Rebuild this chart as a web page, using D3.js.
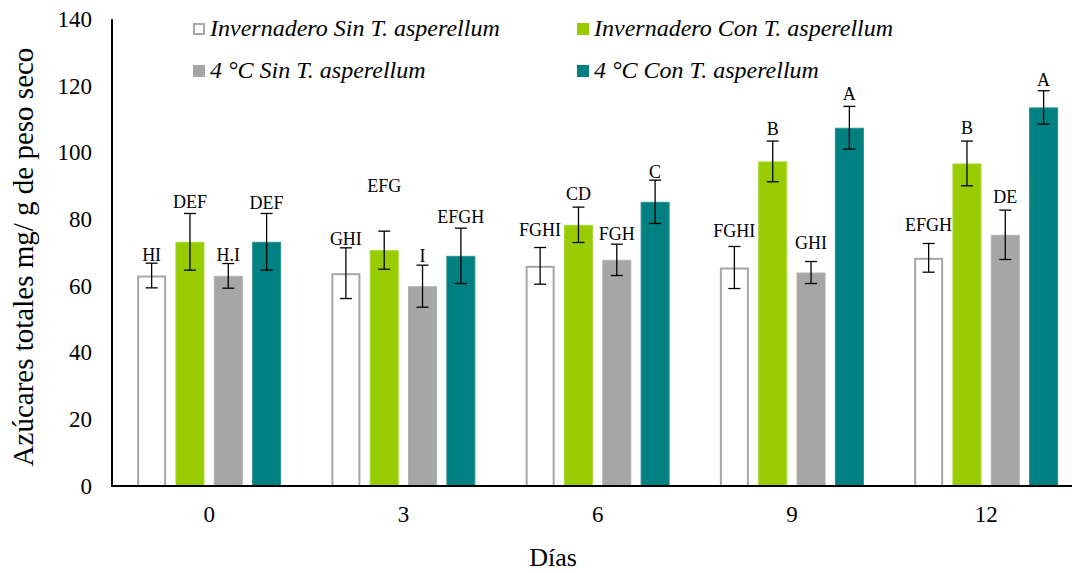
<!DOCTYPE html>
<html>
<head>
<meta charset="utf-8">
<script src="https://cdn.jsdelivr.net/npm/d3@7"></script>
<style>
  html, body { margin: 0; padding: 0; background: #fff; }
  svg { display: block; }
  text { font-family: "Liberation Serif", "Times New Roman", serif; fill: #000; }
</style>
</head>
<body>
<svg id="chart" width="1072" height="573"></svg>
<script>
// ---- data ----
const days = ["0", "3", "6", "9", "12"];
const seriesNames = [
  "Invernadero Sin T. asperellum",
  "Invernadero Con T. asperellum",
  "4 °C Sin T. asperellum",
  "4 °C Con T. asperellum"
];
// mean values per series (ordered by days)
const invSin = [63.1, 63.8, 66.0, 65.5, 68.4];
const invCon = [73.2, 70.7, 78.3, 97.3, 96.7];
const frioSin = [63.0, 59.9, 67.8, 64.0, 75.3];
const frioCon = [73.2, 69.0, 85.2, 107.4, 113.5];
// error bar half-lengths
const errInvSin = [3.7, 7.6, 5.5, 6.3, 4.3];
const errInvCon = [8.5, 5.7, 5.3, 6.1, 6.7];
const errFrioSin = [3.7, 6.3, 4.7, 3.3, 7.4];
const errFrioCon = [8.5, 8.3, 6.5, 6.4, 5.0];
// significance letters
const letInvSin = ["HI", "GHI", "FGHI", "FGHI", "EFGH"];
const letInvCon = ["DEF", "EFG", "CD", "B", "B"];
const letFrioSin = ["H.I", "I", "FGH", "GHI", "DE"];
const letFrioCon = ["DEF", "EFGH", "C", "A", "A"];
// value level (axis units) at which each letter sits
const letAtInvSin = [69.2, 74.0, 76.8, 76.4, 78.3];
const letAtInvCon = [85.1, 89.9, 87.5, 107.0, 107.5];
const letAtFrioSin = [69.2, 69.0, 75.7, 72.8, 86.7];
const letAtFrioCon = [84.8, 80.8, 94.2, 117.5, 121.8];
const yTicks = [0, 20, 40, 60, 80, 100, 120, 140];

const values = [invSin, invCon, frioSin, frioCon];
const errors = [errInvSin, errInvCon, errFrioSin, errFrioCon];
const letters = [letInvSin, letInvCon, letFrioSin, letFrioCon];
const letterAt = [letAtInvSin, letAtInvCon, letAtFrioSin, letAtFrioCon];

// ---- styles ----
const fills = ["#ffffff", "#99cc00", "#a6a6a6", "#008080"];
const strokes = ["#a6a6a6", "#a6d92e", "#b0b0b0", "#2a9090"];

const svg = d3.select("#chart");
const mLeft = 112, mBottom = 486, mTop = 19;
const bandW = 194.25;

const y = d3.scaleLinear().domain([0, 140]).range([mBottom, mTop]);
const x0 = d3.scaleBand().domain(days).range([mLeft, mLeft + bandW * days.length]).padding(0);
const x1 = d3.scaleBand().domain(seriesNames.map((d, i) => i))
  .range([bandW / 2 - 72, bandW / 2 + 72]).paddingInner(0.243).paddingOuter(0);

const rows = [];
days.forEach((d, di) => {
  seriesNames.forEach((s, si) => {
    rows.push({day: d, si, v: values[si][di], e: errors[si][di], l: letters[si][di], la: letterAt[si][di]});
  });
});

// bars
const g = svg.append("g");
g.selectAll("rect.bar").data(rows).enter().append("rect")
  .attr("class", "bar")
  .attr("x", d => x0(d.day) + x1(d.si) + (d.si === 0 ? 1 : 0.5))
  .attr("y", d => y(d.v) + (d.si === 0 ? 1 : 0.5))
  .attr("width", d => x1.bandwidth() - (d.si === 0 ? 2 : 1))
  .attr("height", d => mBottom - y(d.v) - (d.si === 0 ? 1 : 0.5))
  .attr("fill", d => fills[d.si])
  .attr("stroke", d => strokes[d.si])
  .attr("stroke-width", d => d.si === 0 ? 2 : 1);

// error bars
const cx = d => x0(d.day) + x1(d.si) + x1.bandwidth() / 2;
const eb = g.selectAll("g.err").data(rows).enter().append("g").attr("class", "err")
  .attr("stroke", "#000").attr("stroke-width", 1.3);
eb.append("line").attr("x1", cx).attr("x2", cx).attr("y1", d => y(d.v + d.e)).attr("y2", d => y(d.v - d.e));
eb.append("line").attr("x1", d => cx(d) - 6).attr("x2", d => cx(d) + 6).attr("y1", d => y(d.v + d.e)).attr("y2", d => y(d.v + d.e));
eb.append("line").attr("x1", d => cx(d) - 6).attr("x2", d => cx(d) + 6).attr("y1", d => y(d.v - d.e)).attr("y2", d => y(d.v - d.e));

// letters
g.selectAll("text.let").data(rows).enter().append("text")
  .attr("class", "let")
  .attr("x", cx)
  .attr("y", d => y(d.la))
  .attr("dy", "0.35em")
  .attr("text-anchor", "middle")
  .style("font-size", "18px")
  .text(d => d.l);

// axes
const yAxis = d3.axisLeft(y).tickValues(yTicks).tickSize(0).tickPadding(20);
const ya = svg.append("g").attr("transform", `translate(${mLeft},0)`).call(yAxis);
ya.select(".domain").remove();
ya.selectAll("text").style("font-size", "23px").style("font-family", "Liberation Serif");

const xAxis = d3.axisBottom(x0).tickSize(0).tickPadding(20);
const xa = svg.append("g").attr("transform", `translate(0,${mBottom})`).call(xAxis);
xa.select(".domain").remove();
xa.selectAll("text").style("font-size", "23px").style("font-family", "Liberation Serif");

svg.append("line").attr("x1", mLeft).attr("x2", mLeft).attr("y1", mTop).attr("y2", mBottom + 1)
  .attr("stroke", "#000").attr("stroke-width", 2);
svg.append("line").attr("x1", mLeft - 1).attr("x2", 1072).attr("y1", mBottom).attr("y2", mBottom)
  .attr("stroke", "#000").attr("stroke-width", 2);

// axis titles
svg.append("text")
  .attr("transform", `translate(33,257) rotate(-90)`)
  .attr("text-anchor", "middle")
  .style("font-size", "29px")
  .text("Azúcares totales mg/ g de peso seco");
svg.append("text")
  .attr("x", 553).attr("y", 566)
  .attr("text-anchor", "middle")
  .style("font-size", "26px")
  .text("Días");

// legend
const legPos = [[193, 29], [577, 29], [193, 71], [577, 71]];
const leg = svg.append("g").selectAll("g").data(seriesNames).enter().append("g")
  .attr("transform", (d, i) => `translate(${legPos[i][0]},${legPos[i][1]})`);
leg.append("rect")
  .attr("x", (d, i) => i === 0 ? 1 : 0).attr("y", (d, i) => i === 0 ? -5 : -6)
  .attr("width", (d, i) => i === 0 ? 10 : 12).attr("height", (d, i) => i === 0 ? 10 : 12)
  .attr("fill", (d, i) => fills[i])
  .attr("stroke", (d, i) => i === 0 ? "#a6a6a6" : "none")
  .attr("stroke-width", 2);
leg.append("text")
  .attr("x", 17).attr("y", 7)
  .style("font-size", "24px").style("font-style", "italic")
  .text(d => d);
</script>
</body>
</html>
